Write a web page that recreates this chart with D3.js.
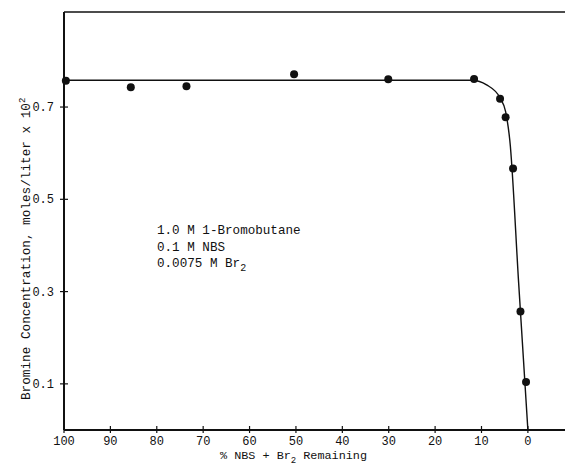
<!DOCTYPE html>
<html>
<head>
<meta charset="utf-8">
<script src="https://cdn.jsdelivr.net/npm/d3@7"></script>
<style>
    body { margin: 0; background: #fff; }
    svg { display: block; }
    text { font-family: "Liberation Mono", "DejaVu Sans Mono", monospace; fill: #111; }
</style>
</head>
<body>
<div id="wrapper"></div>
<script>
// measured points
let pctRemaining = [99.6, 85.6, 73.6, 50.4, 30.1, 11.6, 6.0, 4.8, 3.2, 1.6, 0.4];
let brConc = [0.757, 0.743, 0.745, 0.771, 0.760, 0.761, 0.718, 0.678, 0.567, 0.257, 0.104];

// hand drawn fit line
let curvePct = [100, 50, 12, 8.9, 6.0, 4.8, 4.25, 3.9, 2.0, 0];
let curveConc = [0.758, 0.758, 0.758, 0.748, 0.720, 0.690, 0.657, 0.628, 0.32, 0];

let xTicks = [100, 90, 80, 70, 60, 50, 40, 30, 20, 10, 0];
let yTicks = [0.1, 0.3, 0.5, 0.7];
let notes = ["1.0 M 1-Bromobutane", "0.1 M NBS", "0.0075 M Br"];

let wSvg = 565;
let hSvg = 469;

let svg = d3.select("#wrapper")
    .append("svg")
    .attr("width", wSvg)
    .attr("height", hSvg);

let xScale = d3.scaleLinear().domain([100, -8]).range([64, 565]);
let yScale = d3.scaleLinear().domain([0, 0.906]).range([430, 12]);

// frame: top line, left axis, bottom axis
svg.append("line")
    .attr("x1", xScale(100)).attr("x2", wSvg)
    .attr("y1", yScale(0.906)).attr("y2", yScale(0.906))
    .attr("stroke", "#111").attr("stroke-width", 1.6);

svg.append("line")
    .attr("x1", xScale(100)).attr("x2", xScale(100))
    .attr("y1", yScale(0.906)).attr("y2", yScale(0))
    .attr("stroke", "#111").attr("stroke-width", 2);

svg.append("line")
    .attr("x1", xScale(100)).attr("x2", wSvg)
    .attr("y1", yScale(0)).attr("y2", yScale(0))
    .attr("stroke", "#111").attr("stroke-width", 2);

// ticks cross the axis lines
svg.selectAll(".xtick")
    .data(xTicks)
    .enter()
    .append("line")
    .attr("class", "xtick")
    .attr("x1", d => xScale(d)).attr("x2", d => xScale(d))
    .attr("y1", yScale(0) - 4).attr("y2", yScale(0) + 3)
    .attr("stroke", "#111").attr("stroke-width", 1.2);

svg.selectAll(".xlabel")
    .data(xTicks)
    .enter()
    .append("text")
    .attr("class", "xlabel")
    .attr("x", d => xScale(d))
    .attr("y", 445)
    .attr("text-anchor", "middle")
    .attr("font-size", 12)
    .text(d => d);

svg.selectAll(".ytick")
    .data(yTicks)
    .enter()
    .append("line")
    .attr("class", "ytick")
    .attr("x1", xScale(100) - 4).attr("x2", xScale(100) + 4)
    .attr("y1", d => yScale(d)).attr("y2", d => yScale(d))
    .attr("stroke", "#111").attr("stroke-width", 1.2);

svg.selectAll(".ylabel")
    .data(yTicks)
    .enter()
    .append("text")
    .attr("class", "ylabel")
    .attr("x", 54)
    .attr("y", d => yScale(d) + 4)
    .attr("text-anchor", "end")
    .attr("font-size", 12)
    .text(d => d.toFixed(1));

// axis titles
let yTitle = svg.append("text")
    .attr("transform", "translate(30,400) rotate(-90)")
    .attr("font-size", 12.7);
yTitle.append("tspan").text("Bromine Concentration, moles/liter x 10");
yTitle.append("tspan").attr("dy", -5).attr("font-size", 9).text("2");

let xTitle = svg.append("text")
    .attr("x", 220)
    .attr("y", 459)
    .attr("font-size", 11.8);
xTitle.append("tspan").text("% NBS + Br");
xTitle.append("tspan").attr("dy", 4).attr("font-size", 9).text("2");
xTitle.append("tspan").attr("dy", -4).text(" Remaining");

// fitted curve
let curveData = curvePct.map((d, i) => ({ x: d, y: curveConc[i] }));
let line = d3.line()
    .x(d => xScale(d.x))
    .y(d => yScale(d.y))
    .curve(d3.curveMonotoneX);

svg.append("path")
    .datum(curveData)
    .attr("d", line)
    .attr("fill", "none")
    .attr("stroke", "#111")
    .attr("stroke-width", 1.4);

// points
let pointData = pctRemaining.map((d, i) => ({ x: d, y: brConc[i] }));
svg.selectAll("circle")
    .data(pointData)
    .enter()
    .append("circle")
    .attr("cx", d => xScale(d.x))
    .attr("cy", d => yScale(d.y))
    .attr("r", 4)
    .attr("fill", "#111");

// conditions note
let noteG = svg.append("g");
notes.forEach((d, i) => {
    let t = noteG.append("text")
        .attr("x", 157)
        .attr("y", 234 + i * 16.5)
        .attr("font-size", 12.6);
    t.append("tspan").text(d);
    if (i === 2) {
        t.append("tspan").attr("dy", 4).attr("font-size", 10).text("2");
    }
});
</script>
</body>
</html>
